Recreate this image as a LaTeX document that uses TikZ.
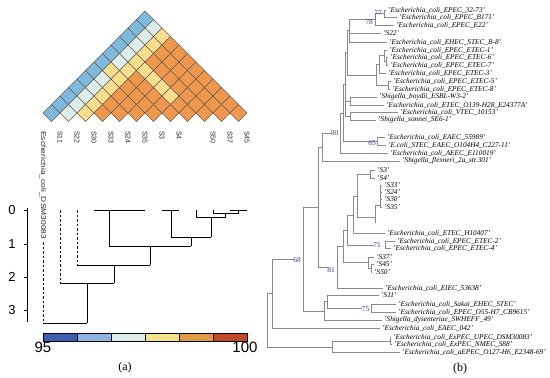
\documentclass[tikz,border=0pt]{standalone}
\usepackage{fontspec}
\setmainfont{Liberation Serif}
\setsansfont{Liberation Sans}
\definecolor{hmB}{HTML}{7EB9DE}
\definecolor{hmP}{HTML}{DCEFEA}
\definecolor{hmY}{HTML}{F6DE8C}
\definecolor{hmO}{HTML}{EF974C}
\definecolor{hmEdge}{HTML}{6B5E55}
\definecolor{cbA}{HTML}{3F5FAE}
\definecolor{cbB}{HTML}{8DB5E0}
\definecolor{cbC}{HTML}{DEEDEA}
\definecolor{cbD}{HTML}{F5E38C}
\definecolor{cbE}{HTML}{DE9C48}
\definecolor{cbF}{HTML}{BF4A28}
\definecolor{supblue}{HTML}{3A3AB0}
\definecolor{treegray}{HTML}{8A8A8A}
\begin{document}
\begin{tikzpicture}[x=1pt,y=-1pt,
  tr/.style={draw=treegray, line width=0.55pt},
  lab/.style={anchor=west, inner sep=0pt, font=\fontsize{7.3}{8}\selectfont\itshape},
  suplab/.style={text=supblue, inner sep=0pt, font=\fontsize{7.5}{8}\selectfont},
  dg/.style={line width=0.9pt},
  dgd/.style={line width=0.9pt, dash pattern=on 2.5pt off 2pt},
  hml/.style={anchor=west, rotate=-90, inner sep=0pt, font=\sffamily\fontsize{7}{8}\selectfont, text=black!85},
  axl/.style={font=\sffamily\fontsize{13}{14}\selectfont, inner sep=0pt},
  cbl/.style={font=\sffamily\fontsize{15}{16}\selectfont, inner sep=0pt},
  captxt/.style={font=\fontsize{12}{13}\selectfont, inner sep=0pt}
]
\useasboundingbox (0,0) rectangle (550,378);

% ---------------- heatmap ----------------
\foreach \i in {0,...,11}{
  \pgfmathtruncatemacro{\js}{\i+1}
  \foreach \j in {\js,...,12}{
    \def\hmcol{hmO}
    \ifnum\i=0 \def\hmcol{hmB}\fi
    \ifnum\i=1 \def\hmcol{hmP}\fi
    \ifnum\i=2 \def\hmcol{hmY}\fi
    \ifnum\j=9 \ifnum\i>2 \ifnum\i<7 \def\hmcol{hmY}\fi\fi\fi
    \ifnum\i=1 \ifnum\j=7 \def\hmcol{hmY}\fi\fi
    \pgfmathsetmacro{\cx}{43+8.5*(\i+\j)}
    \pgfmathsetmacro{\cy}{113-8.5*(\j-\i-1)}
    \filldraw[fill=\hmcol, draw=hmEdge, line width=0.6pt]
      ({\cx-8.5},\cy) -- (\cx,{\cy-8.5}) -- ({\cx+8.5},\cy) -- (\cx,{\cy+8.5}) -- cycle;
  }
}

% heatmap labels
\node[hml] (hE) at (43,131) {\resizebox{108pt}{\height}{Escherichia\_coli\_DSM30083}};
\node[hml] (h1) at (60,131) {S11};
\node[hml] (h2) at (77,131) {S22};
\node[hml] (h3) at (94,131) {S30};
\node[hml] (h4) at (111,131) {S33};
\node[hml] (h5) at (128,131) {S24};
\node[hml] (h6) at (145,131) {S35};
\node[hml] (h7) at (162,131) {S3};
\node[hml] (h8) at (179,131) {S4};
\node[hml] (h10) at (213,131) {S50};
\node[hml] (h11) at (230,131) {S37};
\node[hml] (h12) at (247,131) {S45};

% ---------------- dendrogram ----------------
\draw[dg] (27,208) -- (27,322);
\foreach \yy/\t in {210/0,244/1,277/2,310/3}{
  \draw[dg] (24,\yy) -- (27,\yy);
  \node[axl] at (12,\yy) {\t};
}
% cluster A
\draw[dg] (94,210) -- (145,210) (109,210) -- (109,246);
% cluster B
\draw[dg] (162,210) -- (179,210) (171,210) -- (171,237);
% cluster C
\draw[dg] (230,210) -- (247,210) (238.5,210) -- (238.5,213)
          (213,210) -- (213,213) (213,213) -- (238.5,213) (225.7,213) -- (225.7,217)
          (196,210) -- (196,217) (196,217) -- (225.7,217) (211,217) -- (211,237);
% merges
\draw[dg] (171,237) -- (211,237) (191,237) -- (191,246);
\draw[dg] (109,246) -- (191,246) (150,246) -- (150,265);
\draw[dgd] (77,210) -- (77,265);
\draw[dg] (77,265) -- (150,265) (114,265) -- (114,283);
\draw[dgd] (60,210) -- (60,283);
\draw[dg] (60,283) -- (114,283) (87,283) -- (87,323);
\draw[dgd] (43,242) -- (43,323);
\draw[dg] (43,323) -- (87,323);

% colour bar
\foreach \c [count=\k from 0] in {cbA,cbB,cbC,cbD,cbE,cbF}{
  \filldraw[fill=\c, draw=black, line width=0.6pt] ({43+34*\k},333) rectangle ({77+34*\k},341);
}
\node[cbl] (c95) at (43,347) {95};
\node[cbl] (c100) at (245,347) {100};
\node[captxt] (capa) at (125,368) {(a)};

% ---------------- phylogenetic tree ----------------
% EPEC top
\draw[tr] (384,10)--(386,10) (384,17)--(397,17) (384,10)--(384,17) (375,13.5)--(384,13.5);
\draw[tr] (375,25)--(394,25) (375,13.5)--(375,25) (349,19)--(375,19);
\draw[tr] (349,33)--(381,33) (349,42)--(387,42) (349,19)--(349,42) (347,30)--(349,30);
% ETEC group
\draw[tr] (384,50)--(387,50) (386,57)--(388,57) (386,65)--(388,65) (386,57)--(386,65)
  (384,61)--(386,61) (384,50)--(384,61) (379,55.5)--(384,55.5)
  (379,73)--(386,73) (379,55.5)--(379,73) (376,64)--(379,64)
  (388,81)--(391,81) (388,89)--(390,89) (388,81)--(388,89) (376,85)--(388,85)
  (376,64)--(376,85) (347,75)--(376,75) (347,30)--(347,75) (345,52)--(347,52);
% boydii / VTEC
\draw[tr] (350,97)--(377,97) (350,105)--(384,105) (350,97)--(350,105) (345,101)--(350,101)
  (350,112)--(398,112) (350,120)--(376,120) (350,112)--(350,120) (345,116)--(350,116)
  (345,52)--(345,116) (343,84)--(345,84);
% EAEC
\draw[tr] (377,137.5)--(385,137.5) (377,145)--(386,145) (377,137.5)--(377,145) (343,141)--(377,141)
  (343,84)--(343,141) (340,113)--(343,113);
\draw[tr] (340,153)--(388,153) (340,113)--(340,153) (322,133)--(331,133);
\draw[tr] (322,161)--(400,161) (322,133)--(322,161) (318,147)--(322,147);
% S clade
\draw[tr] (370,170)--(375,170) (370,178)--(375,178) (370,170)--(370,178) (357,174)--(370,174);
\draw[tr] (380,185)--(382,185) (380,192.5)--(382,192.5) (380,199.5)--(382,199.5) (380,207)--(382,207)
  (380,185)--(380,207) (375,205)--(380,205) (375,205)--(375,223) (357,217)--(375,217)
  (357,174)--(357,217) (353,196)--(357,196);
\draw[tr] (353,233)--(385,233) (353,196)--(353,233) (347,215)--(353,215);
\draw[tr] (385,241)--(395,241) (385,248)--(391,248) (385,241)--(385,248) (347,245)--(374,245)
  (347,215)--(347,245) (343,230)--(347,230);
\draw[tr] (368,257)--(374,257) (371,264.5)--(374,264.5) (371,272)--(372,272) (371,264.5)--(371,272)
  (368,268)--(371,268) (368,257)--(368,268) (343,262.5)--(368,262.5)
  (343,230)--(343,262.5) (337,246)--(343,246);
\draw[tr] (337,288)--(383,288) (337,246)--(337,288) (318,267)--(328,267);
\draw[tr] (318,147)--(318,267) (303,207)--(318,207);
% lower
\draw[tr] (327,295)--(379,295) (371,304)--(396,304) (371,312)--(396,312) (371,304)--(371,312)
  (327,308)--(362,308) (327,295)--(327,308) (324,301.5)--(327,301.5)
  (324,320)--(382,320) (324,301.5)--(324,320) (303,311)--(324,311)
  (303,207)--(303,311) (272,259)--(294,259);
\draw[tr] (272,328)--(380,328) (272,259)--(272,328) (267,293.5)--(272,293.5);
\draw[tr] (390,337)--(391,337) (390,344.5)--(392,344.5) (390,337)--(390,344.5) (332,341)--(390,341)
  (332,352.5)--(400,352.5) (332,341)--(332,352.5) (267,347)--(332,347) (267,293.5)--(267,347);

% support values
\node[suplab] (s77) at (378,13) {77};
\node[suplab] (s78) at (369,22) {78};
\node[suplab] (s65) at (372,143) {65};
\node[suplab] (s80) at (334.5,133.5) {80};
\node[suplab] (s71) at (377,245) {71};
\node[suplab] (s81) at (331,270) {81};
\node[suplab] (s68) at (297,260.5) {68};
\node[suplab] (s75) at (365.5,309) {75};

% leaf labels
\node[lab] (t1) at (388,10) {'Escherichia\_coli\_EPEC\_32-73'};
\node[lab] (t2) at (399,17) {'Escherichia\_coli\_EPEC\_B171'};
\node[lab] (t3) at (396,25) {'Escherichia\_coli\_EPEC\_E22'};
\node[lab] (t4) at (383,33) {'S22'};
\node[lab] (t5) at (389,42) {'Escherichia\_coli\_EHEC\_STEC\_B-8'};
\node[lab] (t6) at (389,50) {'Escherichia\_coli\_EPEC\_ETEC-1'};
\node[lab] (t7) at (390,57) {'Escherichia\_coli\_EPEC\_ETEC-6'};
\node[lab] (t8) at (390,65) {'Escherichia\_coli\_EPEC\_ETEC-7'};
\node[lab] (t9) at (388,73) {'Escherichia\_coli\_EPEC\_ETEC-3'};
\node[lab] (t10) at (393,81) {'Escherichia\_coli\_EPEC\_ETEC-5'};
\node[lab] (t11) at (392,89) {'Escherichia\_coli\_EPEC\_ETEC-8'};
\node[lab] (t12) at (379,97) {'Shigella\_boydii\_ESBL-W3-2'};
\node[lab] (t13) at (386,105) {'Escherichia\_coli\_ETEC\_O139-H28\_E24377A'};
\node[lab] (t14) at (400,112) {'Escherichia\_coli\_VTEC\_10153'};
\node[lab] (t15) at (378,120) {'Shigella\_sonnei\_SE6-1'};
\node[lab] (t16) at (387,137.5) {'Escherichia\_coli\_EAEC\_55989'};
\node[lab] (t17) at (388,145) {'E.coli\_STEC\_EAEC\_O104H4\_C227-11'};
\node[lab] (t18) at (390,153) {'Escherichia\_coli\_AEEC\_E110019'};
\node[lab] (t19) at (402,161) {'Shigella\_flexneri\_2a\_str.301'};
\node[lab] (t20) at (377,170) {'S3'};
\node[lab] (t21) at (377,178) {'S4'};
\node[lab] (t22) at (384,185) {'S33'};
\node[lab] (t23) at (384,192.5) {'S24'};
\node[lab] (t24) at (384,199.5) {'S30'};
\node[lab] (t25) at (384,207) {'S35'};
\node[lab] (t26) at (387,233) {'Escherichia\_coli\_ETEC\_H10407'};
\node[lab] (t27) at (397,241) {'Escherichia\_coli\_EPEC\_ETEC-2'};
\node[lab] (t28) at (393,248) {'Escherichia\_coli\_EPEC\_ETEC-4'};
\node[lab] (t29) at (376,257) {'S37'};
\node[lab] (t30) at (376,264.5) {'S45'};
\node[lab] (t31) at (374,272) {'S50'};
\node[lab] (t32) at (385,288) {'Escherichia\_coli\_EIEC\_53638'};
\node[lab] (t33) at (381,295) {'S11'};
\node[lab] (t34) at (398,304) {'Escherichia\_coli\_Sakai\_EHEC\_STEC'};
\node[lab] (t35) at (398,312) {'Escherichia\_coli\_EPEC\_O55-H7\_CB9615'};
\node[lab] (t36) at (384,320) {'Shigella\_dysenteriae\_SWHEFF\_49'};
\node[lab] (t37) at (382,328) {'Escherichia\_coli\_EAEC\_042'};
\node[lab] (t38) at (393,337) {'Escherichia\_coli\_ExPEC\_UPEC\_DSM30083'};
\node[lab] (t39) at (394,344.5) {'Escherichia\_coli\_ExPEC\_NMEC\_S88'};
\node[lab] (t40) at (402,352.5) {'Escherichia\_coli\_aEPEC\_O127-H6\_E2348-69'};
\node[captxt] (capb) at (460,369) {(b)};
\end{tikzpicture}
\end{document}
